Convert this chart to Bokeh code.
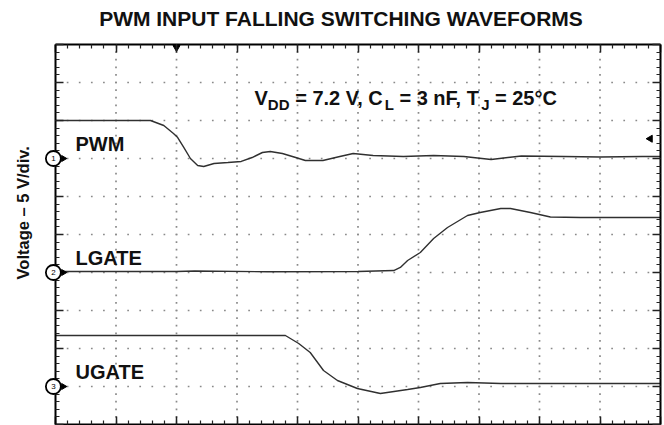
import numpy as np
from bokeh.plotting import figure
from bokeh.models import Label, FixedTicker, LinearAxis, Range1d, CustomLabelingPolicy
from bokeh.core.properties import value
from bokeh.embed import file_html
from bokeh.resources import INLINE

# ---- data (time in divisions, voltages in volts) ----
channels = ["PWM", "LGATE", "UGATE"]
channel_numbers = ["1", "2", "3"]
channel_ground_div = [7, 4, 1]
volts_per_div = 5
trigger_time_div = 2.0
trigger_level_v = 2.6

pwm_t = [0, 1.57, 1.79, 1.95, 2.02, 2.12, 2.23, 2.35, 2.45, 2.62, 2.85, 3.07, 3.25, 3.42, 3.55,
         3.75, 3.97, 4.13, 4.42, 4.70, 4.92, 5.25, 5.75, 6.25, 6.75, 7.20, 7.70, 8.40, 9.00, 9.70, 10]
pwm_v = [5.0, 5.0, 4.34, 3.29, 2.76, 1.45, 0.0, -0.92, -1.05, -0.66, -0.53, -0.39, 0.13, 0.79, 0.92,
         0.66, 0.13, -0.26, -0.26, 0.26, 0.66, 0.4, 0.26, 0.4, 0.26, -0.13, 0.33, 0.26, 0.2, 0.26, 0.26]

lgate_t = [0, 2.0, 2.3, 3.5, 5.0, 5.59, 5.70, 5.82, 6.03, 6.25, 6.48, 6.81, 7.02, 7.36, 7.52,
           7.85, 8.18, 8.68, 9.34, 10]
lgate_v = [0.13, 0.13, 0.2, 0.1, 0.13, 0.26, 0.66, 1.58, 2.63, 4.47, 5.92, 7.5, 7.89, 8.42, 8.42,
           7.89, 7.3, 7.24, 7.24, 7.24]

ugate_t = [0, 3.0, 3.80, 4.02, 4.21, 4.43, 4.66, 4.99, 5.37, 5.82, 6.03, 6.36, 6.81, 7.36, 8.35, 9.2, 10]
ugate_v = [6.71, 6.71, 6.71, 5.66, 4.47, 2.1, 0.79, -0.26, -0.92, -0.39, -0.13, 0.39, 0.53, 0.39,
           0.39, 0.39, 0.39]

title_text = "PWM INPUT FALLING SWITCHING WAVEFORMS"
ylabel_text = "Voltage \u2013 5 V/div."

n_div = 10
minor_per_div = 5

FONT = "Liberation Sans"
TRACE = "#303030"
TEXT = "#111111"

p = figure(width=664, height=425, output_backend="svg", toolbar_location=None,
           x_range=Range1d(0, n_div), y_range=Range1d(0, n_div),
           x_axis_location=None, y_axis_location=None,
           min_border_left=55, min_border_right=4, min_border_top=44, min_border_bottom=1)
p.outline_line_color = None
p.xgrid.visible = False
p.ygrid.visible = False
p.background_fill_color = "white"

# ---- scope border axes with inward ticks, no tick labels ----
major = list(range(n_div + 1))
minor = [i / minor_per_div for i in range(n_div * minor_per_div + 1)]
no_labels = CustomLabelingPolicy(code="for (let i = 0; i < indices.size; i++) { indices.unset(i) } return indices")
for loc in ["left", "right", "above", "below"]:
    ax = LinearAxis(ticker=FixedTicker(ticks=major, minor_ticks=minor))
    ax.axis_line_width = 2
    ax.axis_line_color = "black"
    ax.major_tick_in = 8
    ax.major_tick_out = 0
    ax.minor_tick_in = 4
    ax.minor_tick_out = 0
    ax.major_tick_line_width = 1.5
    ax.minor_tick_line_width = 1.2
    ax.major_tick_line_color = "#222222"
    ax.minor_tick_line_color = "#222222"
    ax.major_label_text_font_size = "0px"
    ax.major_label_standoff = 0
    ax.major_label_policy = no_labels
    p.add_layout(ax, loc)

# ---- dotted graticule ----
fine = np.array(minor)
gx = np.concatenate([fine for _ in range(1, n_div)] + [np.full(len(fine), float(v)) for v in range(1, n_div)])
gy = np.concatenate([np.full(len(fine), float(h)) for h in range(1, n_div)] + [fine for _ in range(1, n_div)])
p.scatter(gx, gy, marker="square", size=1.7, color="#8a8a8a", line_color=None)

# ---- traces ----
for t, v, g in [(pwm_t, pwm_v, channel_ground_div[0]),
                (lgate_t, lgate_v, channel_ground_div[1]),
                (ugate_t, ugate_v, channel_ground_div[2])]:
    y = [g + vv / volts_per_div for vv in v]
    p.line(t, y, line_color=TRACE, line_width=1.4)

# ---- channel ground markers ----
mx = [-0.035] * len(channel_ground_div)
p.scatter(mx, channel_ground_div, marker="circle", size=15, fill_color="white",
          line_color="black", line_width=1.8, level="overlay")
p.text(mx, channel_ground_div, text=channel_numbers, text_font=value(FONT), text_font_size="8px",
       text_align="center", text_baseline="middle", text_color="black", level="overlay")
p.scatter([0.13] * len(channel_ground_div), channel_ground_div, marker="triangle", size=6,
          angle=-np.pi / 2, color="black", level="overlay")

# ---- trigger markers ----
p.scatter([trigger_time_div], [n_div - 0.08], marker="inverted_triangle", size=7, color="black")
p.scatter([n_div - 0.17], [channel_ground_div[0] + trigger_level_v / volts_per_div],
          marker="triangle", size=7, angle=np.pi / 2, color="black")

# ---- channel names ----
p.text([0.33] * 3, [g + 0.37 for g in channel_ground_div], text=channels, text_font=value(FONT),
       text_font_size="20px", text_font_style="bold", text_align="left", text_baseline="middle",
       text_color=TEXT)

# ---- title & axis label (drawn as overlay text so they sit outside the frame) ----
p.text([n_div / 2], [n_div], text=[title_text], x_offset=-17, y_offset=-26.5,
       text_font=value(FONT), text_font_size="21px", text_font_style="bold",
       text_align="center", text_baseline="middle", text_color=TEXT, level="overlay")
p.text([-0.54], [5.57], text=[ylabel_text], angle=np.pi / 2,
       text_font=value(FONT), text_font_size="16.5px", text_font_style="bold",
       text_align="center", text_baseline="middle", text_color=TEXT, level="overlay")

# ---- conditions annotation with subscripts ----
ax0, ay0 = 3.29, 8.58
pieces = [("V", 0.0, 20, 0), ("DD", 13.3, 15, -6), ("= 7.2 V, C", 40.6, 20, 0), ("L", 130.1, 15, -6),
          ("= 3 nF, T", 144.9, 20, 0), ("J", 226.6, 15, -6), ("= 25\u00b0C", 240.4, 20, 0)]
for txt, dx, fs, dy in pieces:
    p.add_layout(Label(x=ax0, y=ay0, x_offset=dx, y_offset=dy, text=txt, text_font=FONT,
                       text_font_size=f"{fs}px", text_font_style="bold", text_align="left",
                       text_baseline="alphabetic", text_color=TEXT))

open("out.html", "w").write(file_html(p, INLINE))
